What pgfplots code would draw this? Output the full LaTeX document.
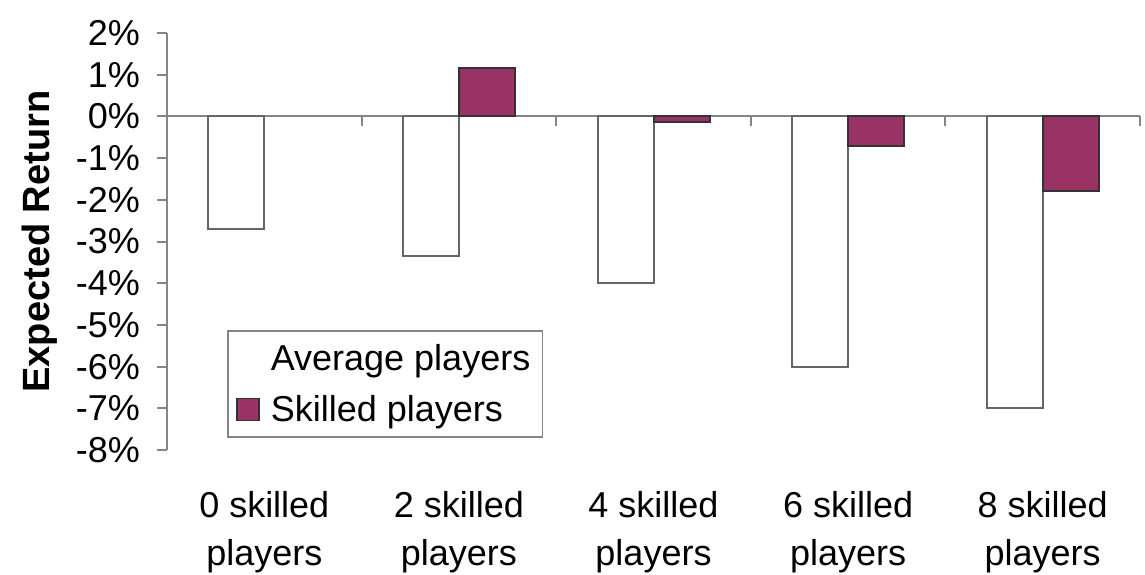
\documentclass[border=0pt]{standalone}
\usepackage{pgfplots}
\pgfplotsset{compat=1.18}
\usepackage{fontspec}
\setmainfont{Liberation Sans}
\definecolor{plum}{HTML}{993366}
\definecolor{axisgray}{HTML}{858585}
\begin{document}
\begin{tikzpicture}
\begin{axis}[
  at={(0,0)}, anchor=south west,
  scale only axis, width=486.5pt, height=208.5pt,
  xmin=-0.5, xmax=4.5, ymin=-8, ymax=2,
  axis y line*=left, axis x line*=bottom,
  x axis line style={draw=none},
  y axis line style={draw=axisgray, line width=1pt, -},
  ytick={-8,-7,-6,-5,-4,-3,-2,-1,0,1,2},
  yticklabels={-8\%,-7\%,-6\%,-5\%,-4\%,-3\%,-2\%,-1\%,0\%,1\%,2\%},
  ytick style={draw=axisgray, line width=1pt},
  ytick align=outside, major tick length=5pt,
  yticklabel style={font=\fontsize{18}{21}\selectfont, xshift=-5pt},
  xtick={0,1,2,3,4},
  xticklabels={{0 skilled\\players},{2 skilled\\players},{4 skilled\\players},{6 skilled\\players},{8 skilled\\players}},
  xtick style={draw=none},
  xticklabel style={align=center, font=\fontsize{18}{24}\selectfont, anchor=north, yshift=-12pt},
  ybar=0pt, bar width=28pt,
  legend style={at={(rel axis cs:0.0617,0.029)}, anchor=south west, draw=axisgray, line width=0.8pt,
    font=\fontsize{18}{21}\selectfont, row sep=7pt, inner xsep=4pt, inner ysep=4.5pt},
  legend cell align=left,
  clip=false,
]
\draw[axisgray, line width=1pt] (axis cs:-0.5,0) -- (axis cs:4.5,0);
\draw[axisgray, line width=1pt] (axis cs:0.5,0) -- ([yshift=-5pt]axis cs:0.5,0);
\draw[axisgray, line width=1pt] (axis cs:1.5,0) -- ([yshift=-5pt]axis cs:1.5,0);
\draw[axisgray, line width=1pt] (axis cs:2.5,0) -- ([yshift=-5pt]axis cs:2.5,0);
\draw[axisgray, line width=1pt] (axis cs:3.5,0) -- ([yshift=-5pt]axis cs:3.5,0);
\draw[axisgray, line width=1pt] (axis cs:4.5,0) -- ([yshift=-5pt]axis cs:4.5,0);
\addplot[fill=white, draw=black!60, line width=1pt,
  legend image code/.code={\fill[white] (0pt,-5.5pt) rectangle (11pt,5.5pt); \path[draw=none, fill=none] (0pt,0pt) -- (15pt,0pt);}]
  coordinates {(0,-2.7) (1,-3.35) (2,-4.0) (3,-6.0) (4,-7.0)};
\addlegendentry{Average players}
\addplot[fill=plum, draw=black!80, line width=1pt,
  legend image code/.code={\draw[fill=plum, draw=black!80, line width=0.8pt] (0pt,-5.5pt) rectangle (11pt,5.5pt); \path[draw=none, fill=none] (0pt,0pt) -- (15pt,0pt);}]
  coordinates {(1,1.15) (2,-0.13) (3,-0.72) (4,-1.8)};
\addlegendentry{Skilled players}
\end{axis}
\node[rotate=90, font=\fontsize{19}{22}\selectfont\bfseries] at (-63.5pt,104.25pt) {Expected Return};
\pgfresetboundingbox
\path[use as bounding box] (-83.5pt,-62pt) rectangle (489pt,225pt);
\end{tikzpicture}
\end{document}
